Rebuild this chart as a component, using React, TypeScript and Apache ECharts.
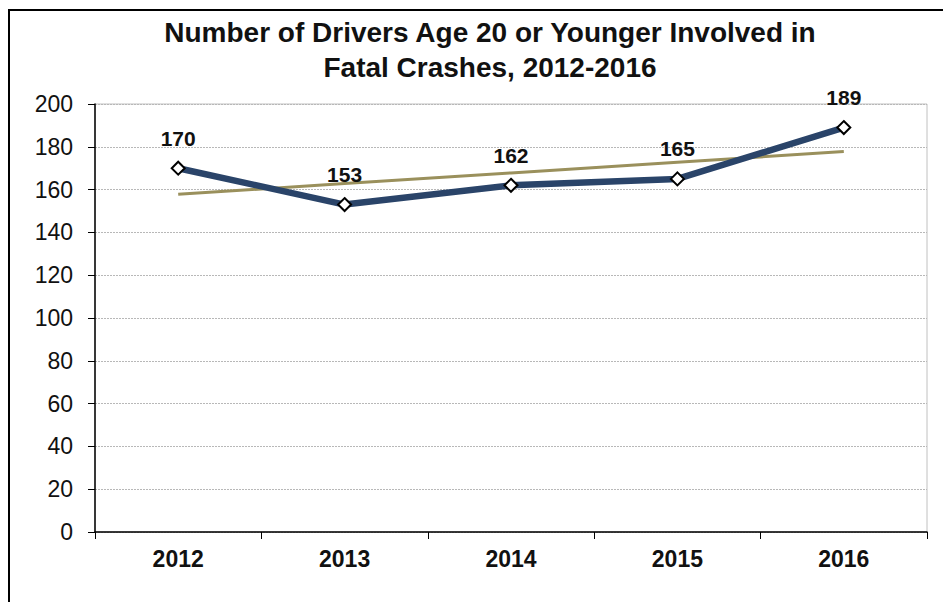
import React, { useEffect, useRef } from "react";
import * as echarts from "echarts";

const titleLines = ["Number of Drivers Age 20 or Younger Involved in", "Fatal Crashes, 2012-2016"];
const years = ["2012", "2013", "2014", "2015", "2016"];
const drivers = [170, 153, 162, 165, 189];
const trendValues = [157.8, 162.8, 167.8, 172.8, 177.8];
const yTicks = { min: 0, max: 200, interval: 20 };

export default function App() {
  const ref = useRef<HTMLDivElement>(null);
  useEffect(() => {
    document.body.style.margin = "0";
    const chart = echarts.init(ref.current!, null, { renderer: "svg" });
    const font = "Liberation Sans, Arial, sans-serif";
    chart.setOption({
      animation: false,
      backgroundColor: "#ffffff",
      textStyle: { fontFamily: font },
      title: {
        text: titleLines.join("\n"),
        left: 490,
        textAlign: "center",
        top: 15,
        padding: 0,
        textStyle: { fontSize: 28, fontWeight: "bold", color: "#111", lineHeight: 35, fontFamily: font },
      },
      graphic: [
        {
          type: "rect",
          shape: { x: 9, y: 10, width: 960, height: 620 },
          style: { fill: "none", stroke: "#000", lineWidth: 2 },
          silent: true,
          z: 100,
        },
      ],
      grid: { left: 95, right: 16, top: 104, bottom: 70, show: true, borderColor: "#c0c0c0", borderWidth: 1 },
      xAxis: {
        type: "category",
        data: years,
        boundaryGap: true,
        axisLine: { lineStyle: { color: "#000", width: 1.5 } },
        axisTick: { show: true, length: 7, lineStyle: { color: "#000" } },
        axisLabel: { fontSize: 23, fontWeight: "bold", color: "#111", margin: 15, fontFamily: font },
      },
      yAxis: {
        type: "value",
        min: yTicks.min,
        max: yTicks.max,
        interval: yTicks.interval,
        axisLine: { show: true, lineStyle: { color: "#000", width: 1.5 } },
        axisTick: { show: true, length: 7, lineStyle: { color: "#000" } },
        axisLabel: { fontSize: 23, color: "#111", margin: 22, fontFamily: font },
        splitLine: { lineStyle: { color: "#b8b8b8", type: [2, 1], width: 1 } },
      },
      series: [
        {
          type: "line",
          data: trendValues,
          symbol: "none",
          lineStyle: { color: "#9a905c", width: 3 },
          z: 2,
        },
        {
          type: "line",
          data: drivers,
          symbol: "diamond",
          symbolSize: 13,
          itemStyle: { color: "#ffffff", borderColor: "#000", borderWidth: 2 },
          lineStyle: { color: "#2a4469", width: 6.5 },
          label: {
            show: true,
            position: "top",
            distance: 12,
            fontSize: 21,
            fontWeight: "bold",
            color: "#111",
            fontFamily: font,
          },
          z: 3,
        },
      ],
    });
    return () => chart.dispose();
  }, []);
  return <div ref={ref} style={{ width: 943, height: 602, position: "absolute", left: 0, top: 0 }} />;
}
